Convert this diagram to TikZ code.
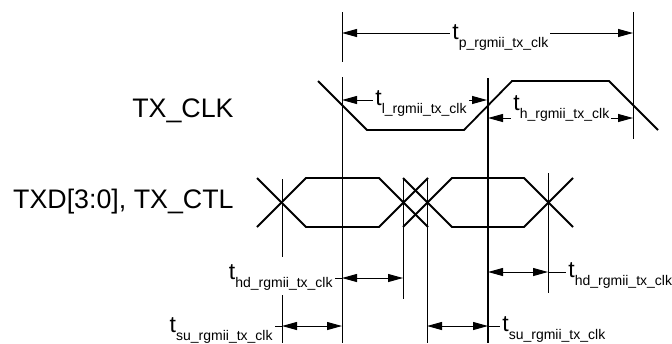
\documentclass[tikz,border=0pt]{standalone}
\usepackage{fontspec}
\setmainfont{Liberation Sans}
\usetikzlibrary{arrows.meta}

% t with a lowered index, as in the timing names
\newcommand{\tsym}[1]{{\fontsize{11.5pt}{11.5pt}\selectfont t}\raisebox{-4pt}{\fontsize{7pt}{7pt}\selectfont #1}}

\begin{document}
\begin{tikzpicture}[x=0.5pt, y=-0.5pt, >={Triangle[length=7.5pt,width=4pt]},
		wave/.style={line width=0.9pt, line join=miter},
		marker/.style={line width=0.5pt},
		dim/.style={<->, line width=0.5pt},
		sig/.style={inner sep=0pt, anchor=base east, font=\fontsize{13.4pt}{14pt}\selectfont},
		tlab/.style={inner sep=1pt, fill=white}]
	\useasboundingbox (0,0) rectangle (672,343);

	% --- Reference lines ---
	% Format: x / top / bottom
	\foreach \x/\ya/\yb in {342/12/62, 342/77/343, 633/12/139, 282/179/257, 282/295/343, 403/178/299, 427/178/343, 548/173/293} {
			\draw[marker] (\x,\ya) -- (\x,\yb);
		}
	\draw[line width=0.9pt] (488,78) -- (488,343);

	% --- Signal names ---
	\node[sig] (clk) at (234,117) {TX\_CLK};
	\node[sig] (txd) at (234,208) {TXD[3:0], TX\_CTL};

	% --- Clock waveform ---
	\draw[wave] (318,81) -- (367,130) -- (464,130) -- (512,81) -- (609,81) -- (658,130);

	% --- Data waveform (two eyes, uncertain edge in the middle) ---
	\foreach \a/\b in {257/379, 403/524} {
			\draw[wave] (\a,178) -- (\a+49,227) -- (\b,227) -- (\b+49,178);
			\draw[wave] (\a,227) -- (\a+49,178) -- (\b,178) -- (\b+49,227);
		}

	% --- Clock period, low and high time ---
	\coordinate (p1) at (342,33);  \coordinate (p2) at (633,33);
	\coordinate (l1) at (342,100); \coordinate (l2) at (487,100);
	\coordinate (h1) at (488,118); \coordinate (h2) at (633,118);
	\draw[dim] (p1) -- (p2);
	\draw[dim] (l1) -- (l2);
	\draw[dim] (h1) -- (h2);
	\node[tlab, anchor=base west] (tp) at (450,39) {\tsym{p\_rgmii\_tx\_clk}};
	\node[tlab, anchor=base west] (tl) at (373,105) {\tsym{l\_rgmii\_tx\_clk}};
	\node[tlab, anchor=base west] (th) at (511,110) {\tsym{h\_rgmii\_tx\_clk}};

	% --- Setup and hold ---
	\coordinate (hd1) at (342,278); \coordinate (hd2) at (403,278);
	\coordinate (su1) at (282,326); \coordinate (su2) at (342,326);
	\coordinate (hd3) at (488,272); \coordinate (hd4) at (548,272);
	\coordinate (su3) at (427,326); \coordinate (su4) at (488,326);
	\draw[dim] (hd1) -- (hd2);
	\draw[dim] (su1) -- (su2);
	\draw[dim] (hd3) -- (hd4);
	\draw[dim] (su3) -- (su4);

	\node[inner sep=1pt, anchor=base east] (hdl) at (335,279) {\tsym{hd\_rgmii\_tx\_clk}};
	\node[inner sep=1pt, anchor=base east] (sul) at (275,332) {\tsym{su\_rgmii\_tx\_clk}};
	\node[inner sep=1pt, anchor=base west] (hdr) at (566,277) {\tsym{hd\_rgmii\_tx\_clk}};
	\node[inner sep=1pt, anchor=base west] (sur) at (500,331) {\tsym{su\_rgmii\_tx\_clk}};
	\draw[marker] (hdl.east |- hd1) -- (hd1);
	\draw[marker] (sul.east |- su1) -- (su1);
	\draw[marker] (hd4) -- (hdr.west |- hd4);
	\draw[marker] (su4) -- (sur.west |- su4);

\end{tikzpicture}
\end{document}
